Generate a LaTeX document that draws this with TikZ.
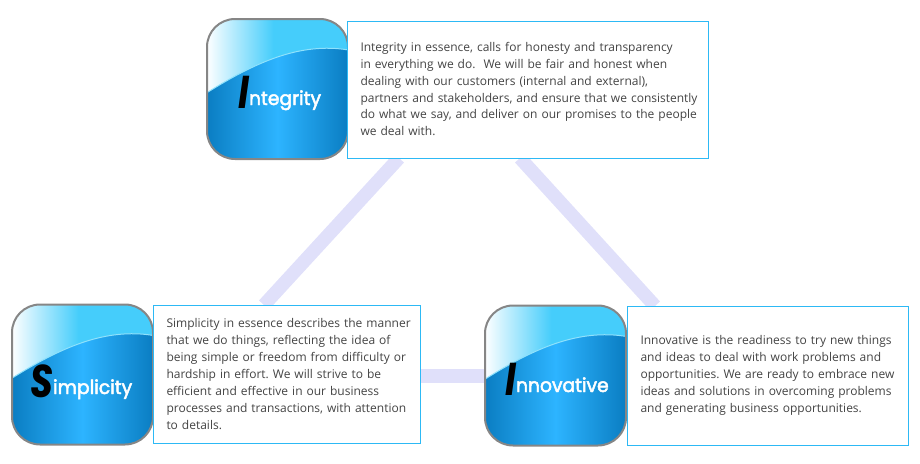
\documentclass[tikz,border=0pt]{standalone}
\usepackage{fontspec}
\setmainfont{Open Sans}
\newfontfamily\headfont[FakeStretch=0.97,FakeBold=2.5]{Poppins}
\newfontfamily\capfont[FakeStretch=0.8]{Poppins}
\usetikzlibrary{backgrounds,calc}
\definecolor{linkc}{HTML}{E0E0FA}
\definecolor{edgec}{HTML}{2DB9F5}
\definecolor{skyc}{HTML}{45CDFB}
\definecolor{deepc}{HTML}{0A7DC2}
\definecolor{midc}{HTML}{2DB4FF}
\definecolor{textc}{HTML}{444444}
\definecolor{rimc}{HTML}{868686}
\definecolor{shinec}{HTML}{8FE2FC}
\tikzset{
  x=1pt,y=-1pt,
  linkline/.style={draw=linkc,line width=13.5pt},
  textbox/.style={draw=edgec,line width=1pt,fill=white,align=left,inner xsep=13.5pt,inner ysep=0pt,outer sep=0pt,
    font=\fontsize{12}{16.9}\selectfont\frenchspacing,text=textc,anchor=north west},
  iconbox/.style={draw=rimc,line width=2pt,rounded corners=28pt,minimum width=141pt,minimum height=140pt,inner sep=0pt,
    path picture={
      \begin{scope}[sharp corners]
      \fill[skyc] (path picture bounding box.south west) rectangle (path picture bounding box.north east);
      \shade[left color=white,right color=skyc] (-71,-71) rectangle (-4,71);
      \shade[left color=deepc,right color=deepc,middle color=midc]
        (-71,4) .. controls (-22,-27) and (23,-47) .. (71,-39) -- (71,71) -- (-71,71) -- cycle;
      \draw[shinec,line width=1pt] (-71,4) .. controls (-22,-27) and (23,-47) .. (71,-39);
      \end{scope}
    }},
  iconlabel/.style={text=white,inner sep=0pt,font=\headfont\fontsize{19.3}{19.3}\selectfont,anchor=base west},
}
\newcommand{\bigletter}[1]{\raisebox{-3pt}{\textcolor{black}{\capfont\bfseries\fontsize{46}{46}\selectfont\itshape #1}}}
\newcommand{\tl}[1]{\makebox[0pt][l]{#1}}
\begin{document}
\begin{tikzpicture}
\useasboundingbox (0,0) rectangle (920,463);
\node[iconbox] (integrity) at (277.5,89) {};
\node[iconbox] (simplicity) at (82.5,374.5) {};
\node[iconbox] (innovative) at (555.5,375.5) {};
\node[textbox,minimum width=361.5pt,minimum height=137pt,text width=334.5pt] (integrityText) at (347,21)
 {\raisebox{0pt}{}\tl{Integrity in essence, calls for honesty and transparency}\\
  \tl{in everything we do.\ \ We will be fair and honest when}\\
  \tl{dealing with our customers (internal and external),}\\
  \tl{partners and stakeholders, and ensure that we consistently}\\
  \tl{do what we say, and deliver on our promises to the people}\\
  \tl{we deal with.}\rule[-1pt]{0pt}{1pt}};
\node[textbox,minimum width=267pt,minimum height=138pt,text width=240pt] (simplicityText) at (153,305)
 {\tl{Simplicity in essence describes the manner}\\
  \tl{that we do things, reflecting the idea of}\\
  \tl{being simple or freedom from difficulty or}\\
  \tl{hardship in effort. We will strive to be}\\
  \tl{efficient and effective in our business}\\
  \tl{processes and transactions, with attention}\\
  \tl{to details.}};
\node[textbox,minimum width=281pt,minimum height=139pt,text width=254pt] (innovativeText) at (627,306)
 {\tl{Innovative is the readiness to try new things}\\
  \tl{and ideas to deal with work problems and}\\
  \tl{opportunities. We are ready to embrace new}\\
  \tl{ideas and solutions in overcoming problems}\\
  \tl{and generating business opportunities.}};
\node[iconlabel] (integrityLabel) at (238,105) {\bigletter{I}ntegrity};
\node[iconlabel] (simplicityLabel) at (30,394) {\bigletter{S}implicity};
\node[iconlabel] (innovativeLabel) at (505,392) {\bigletter{I}nnovative};
\begin{scope}[on background layer]
\draw[linkline] ($(integrityText.south west)+(52,0)$) -- ($(simplicityText.north west)+(111,0)$);
\draw[linkline] ($(integrityText.south west)+(173,0)$) -- ($(innovativeText.north west)+(28,0)$);
\draw[linkline] (simplicityText.east |- 0,376) -- (innovative.west |- 0,376);
\end{scope}
\end{tikzpicture}
\end{document}
